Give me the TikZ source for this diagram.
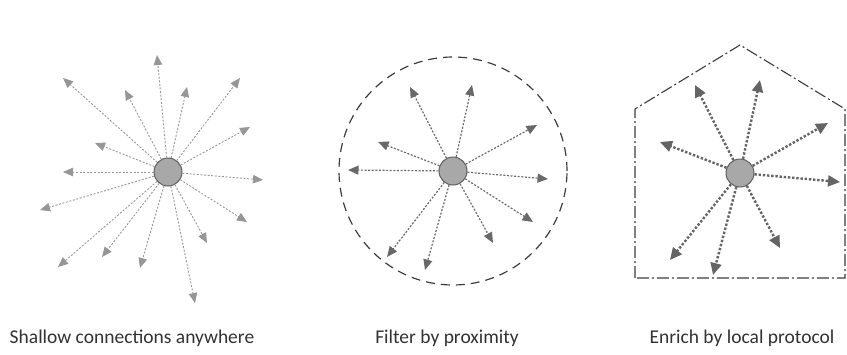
\documentclass[tikz,border=0pt]{standalone}
\usepackage{fontspec}
\setmainfont{Carlito}
\usetikzlibrary{arrows.meta}
\definecolor{lightray}{RGB}{150,150,150}
\definecolor{midray}{RGB}{105,105,105}
\definecolor{darkray}{RGB}{100,100,100}
\definecolor{hubfill}{RGB}{168,168,168}
\definecolor{hubedge}{RGB}{95,95,95}
\definecolor{edgecol}{RGB}{60,60,60}
\definecolor{labelcol}{RGB}{50,50,50}
\tikzset{
  % central person
  hub/.style={circle, draw=hubedge, fill=hubfill, line width=1pt, minimum size=28pt, inner sep=0pt},
  % shallow connection
  shallowray/.style={lightray, line width=0.9pt, dash pattern=on 2pt off 1.6pt,
                     -{Triangle[length=10pt,width=8.5pt]}},
  % nearby connection
  nearray/.style={midray, line width=1.2pt, dash pattern=on 2pt off 1.6pt,
                  -{Triangle[length=10.5pt,width=9pt]}},
  % enriched connection
  richray/.style={darkray, line width=2.4pt, dash pattern=on 2.4pt off 1.8pt,
                  -{Triangle[length=12pt,width=11pt]}},
  % proximity boundary
  zoneline/.style={edgecol, line width=1.2pt, dash pattern=on 9pt off 6pt},
  % protocol boundary
  houseline/.style={edgecol, line width=1.1pt, dash pattern=on 12pt off 3pt on 2pt off 3pt},
  % caption
  caption/.style={font=\fontsize{19.5}{22}\selectfont, text=labelcol, inner sep=0pt},
}
\begin{document}
\begin{tikzpicture}[x=1pt, y=-1pt]
  \useasboundingbox (0,0) rectangle (847,354);

  % Panel 1: shallow connections
  \node[hub] (hubA) at (168,172) {};
  \foreach \px/\py [count=\i] in {157/55, 63/78, 125/90, 187/87, 240/78, 250/127,
      95/143, 63/172, 263/180, 40/210, 247/222, 207/243, 58/267, 102/257,
      140/268, 195/303} {
    \coordinate (a\i) at (\px,\py);
    \draw[shallowray] (hubA) -- (a\i);
  }

  % Panel 2: proximity
  \node[hub] (hubB) at (453,171) {};
  \draw[zoneline] (hubB.center) circle[radius=114pt];
  \foreach \px/\py [count=\i] in {410/87, 472/85, 537/125, 378/142, 348/170,
      548/179, 533/222, 493/243, 387/257, 425/270} {
    \coordinate (b\i) at (\px,\py);
    \draw[nearray] (hubB) -- (b\i);
  }

  % Panel 3: local protocol
  \node[hub] (hubC) at (740,173) {};
  \coordinate (hBL) at (635,278);
  \coordinate (hTL) at (635,109);
  \coordinate (hRoof) at (740,45);
  \coordinate (hTR) at (845,109);
  \coordinate (hBR) at (845,278);
  \draw[houseline] (hBL) -- (hTL) -- (hRoof) -- (hTR) -- (hBR) -- cycle;
  \foreach \px/\py [count=\i] in {695/85, 760/80, 828/123, 660/142, 840/182,
      780/248, 670/260, 713/275} {
    \coordinate (c\i) at (\px,\py);
    \draw[richray] (hubC) -- (c\i);
  }

  % Captions
  \node[caption] (capA) at (132,338) {Shallow connections anywhere};
  \node[caption] (capB) at (447,338) {Filter by proximity};
  \node[caption] (capC) at (742,338) {Enrich by local protocol};
\end{tikzpicture}
\end{document}
